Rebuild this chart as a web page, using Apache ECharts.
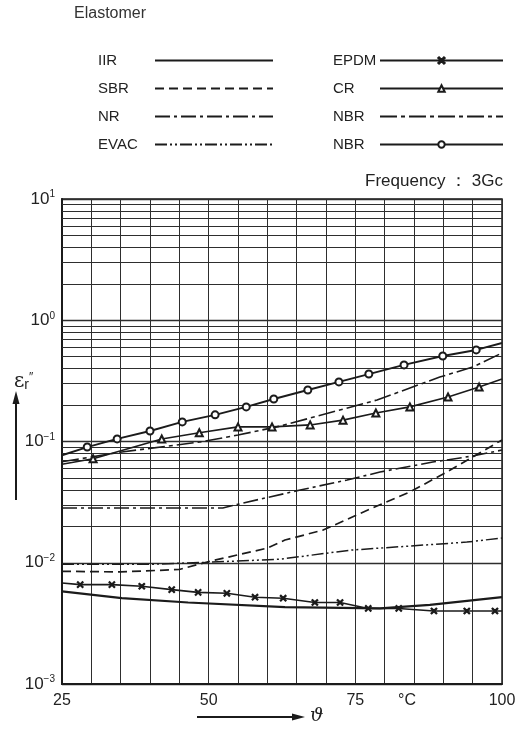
<!DOCTYPE html>
<html>
<head>
<meta charset="utf-8">
<script src="https://cdn.jsdelivr.net/npm/echarts@6/dist/echarts.min.js"></script>
<style>
  html, body { margin: 0; padding: 0; background: #fff; }
  #chart { width: 527px; height: 731px; }
</style>
</head>
<body>
<div id="chart"></div>
<script>
// Dielectric loss factor εr'' vs. temperature ϑ (°C) at 3 GHz, per elastomer

const iirT = [25, 35.2, 46.5, 63.0, 79.2, 87.7, 100];
const iirV = [0.0058, 0.0051, 0.0047, 0.0043, 0.0042, 0.0045, 0.0052];

const sbrT = [25, 35, 45, 49.9, 60, 63, 69.5, 78.7, 84.3, 90.6, 95, 100];
const sbrV = [0.0085, 0.0084, 0.0088, 0.0102, 0.0132, 0.0154, 0.0186, 0.0294, 0.0384, 0.056, 0.0745, 0.103];

const nrT = [25, 52.4, 55.9, 65.6, 73.6, 79.2, 88.2, 95, 100];
const nrV = [0.0283, 0.0283, 0.0311, 0.0398, 0.0481, 0.056, 0.0677, 0.0759, 0.085];

const evacT = [25, 40, 49.9, 62.2, 74.1, 94, 100];
const evacV = [0.0097, 0.0097, 0.0101, 0.0107, 0.0127, 0.0148, 0.016];

const epdmT = [25, 28.1, 33.5, 38.6, 43.7, 48.2, 53.1, 57.9, 62.7, 68.1, 72.4, 77.2, 82.4, 88.4, 94.0, 98.8, 100];
const epdmV = [0.0068, 0.0066, 0.0066, 0.0064, 0.0060, 0.0057, 0.0056, 0.0052, 0.0051, 0.0047, 0.0047, 0.0042, 0.0042, 0.0040, 0.0040, 0.0040, 0.0040];

const crT = [25, 30.3, 42.0, 48.4, 55.0, 60.8, 67.3, 72.9, 78.5, 84.3, 90.8, 96.1, 100];
const crV = [0.065, 0.072, 0.105, 0.118, 0.132, 0.132, 0.137, 0.150, 0.172, 0.193, 0.233, 0.281, 0.327];

const nbrDashT = [25, 35.2, 48.5, 55, 62.2, 78.7, 89.4, 95, 100];
const nbrDashV = [0.068, 0.082, 0.099, 0.113, 0.134, 0.220, 0.340, 0.411, 0.537];

const nbrRingT = [25, 29.3, 34.4, 40.0, 45.5, 51.1, 56.4, 61.1, 66.9, 72.2, 77.3, 83.3, 89.9, 95.6, 100];
const nbrRingV = [0.077, 0.090, 0.105, 0.122, 0.145, 0.166, 0.193, 0.224, 0.266, 0.310, 0.360, 0.428, 0.507, 0.569, 0.649];

// Axis ticks
const xLabelTicks = [25, 50, 75, 100];
const yDecades = [0.001, 0.01, 0.1, 1, 10];
const logMultipliers = [2, 3, 4, 5, 6, 7, 8, 9];

const INK = '#1b1b1b';
const GRID_INK = '#2e2e2e';
const FONT = 'Liberation Sans, Arial, sans-serif';

// Intermediate lines of the log paper (2..9 within every decade)
const minorLines = [];
yDecades.slice(0, -1).forEach(d => logMultipliers.forEach(m => minorLines.push(+(d * m).toPrecision(3))));

// Pair temperatures with values; first and last points are plain line ends
function points(T, V, marked) {
  return T.map((t, i) => {
    const item = { value: [t, V[i]] };
    if (!marked || i === 0 || i === T.length - 1) item.symbol = 'none';
    return item;
  });
}

const crossPath = 'path://M0,1.2L1.2,0L5,3.8L8.8,0L10,1.2L6.2,5L10,8.8L8.8,10L5,6.2L1.2,10L0,8.8L3.8,5Z';

function curve(name, T, V, lineType, width, symbol, symbolSize) {
  const marked = !!symbol;
  return {
    name: name,
    type: 'line',
    data: points(T, V, marked),
    symbol: symbol || 'none',
    symbolSize: symbolSize || 7,
    showSymbol: marked,
    lineStyle: { color: INK, width: width, type: lineType },
    itemStyle: { color: INK, borderColor: INK, borderWidth: 1.2 },
    emphasis: { disabled: true },
    animation: false,
    z: 5
  };
}

const series = [
  curve('IIR', iirT, iirV, 'solid', 2.2),
  curve('SBR', sbrT, sbrV, [9, 5], 1.7),
  curve('NR', nrT, nrV, [15, 4, 3, 4], 1.6),
  curve('EVAC', evacT, evacV, [12, 3, 2, 3, 2, 3], 1.5),
  curve('EPDM', epdmT, epdmV, 'solid', 1.6, crossPath, 6),
  curve('CR', crT, crV, 'solid', 1.6, 'emptyTriangle', 7),
  curve('NBR', nbrDashT, nbrDashV, [17, 4, 4, 4], 1.6),
  curve('NBR ', nbrRingT, nbrRingV, 'solid', 1.9, 'emptyCircle', 7),
  {
    name: 'log-paper',
    type: 'line',
    data: [],
    silent: true,
    animation: false,
    z: 1,
    markLine: {
      silent: true,
      symbol: 'none',
      animation: false,
      label: { show: false },
      lineStyle: { color: GRID_INK, width: 1, type: 'solid' },
      emphasis: { disabled: true },
      data: minorLines.map(v => ({ yAxis: v }))
    }
  }
];

// Legend rows: label in a fixed-width box on the left, line sample on the right
function legendRows(names, marked, left, labelWidth, iconWidth) {
  return {
    orient: 'vertical',
    align: 'right',
    left: left,
    top: 48,
    itemWidth: iconWidth,
    itemHeight: 8,
    itemGap: 13,
    selectedMode: false,
    data: names.map((n, i) => marked[i] ? { name: n } : { name: n, itemStyle: { opacity: 0 } }),
    formatter: n => '{t|' + n.trim() + '}',
    textStyle: {
      width: labelWidth,
      lineHeight: 15,
      color: '#222', fontFamily: FONT, fontSize: 15,
      rich: { t: { align: 'left', width: labelWidth, lineHeight: 15, fontSize: 15, fontFamily: FONT, color: '#222' } }
    }
  };
}

const chart = echarts.init(document.getElementById('chart'), null, { renderer: 'canvas' });
chart.setOption({
  backgroundColor: '#fff',
  animation: false,
  grid: {
    left: 62, right: 25, top: 199, bottom: 47,
    show: true, borderColor: INK, borderWidth: 1.5, backgroundColor: 'transparent'
  },
  legend: [
    legendRows(['IIR', 'SBR', 'NR', 'EVAC'], [false, false, false, false], 93, 52, 118),
    legendRows(['EPDM', 'CR', 'NBR', 'NBR '], [true, true, false, true], 328, 42, 123)
  ],
  xAxis: {
    type: 'value',
    min: 25, max: 100, interval: 5,
    axisLine: { show: true, lineStyle: { color: INK, width: 2 } },
    axisTick: { show: false },
    splitLine: { show: true, lineStyle: { color: GRID_INK, width: 1 } },
    axisLabel: {
      margin: 9,
      color: '#222', fontFamily: FONT, fontSize: 16,
      formatter: v => (xLabelTicks.indexOf(v) >= 0 ? String(v) : '')
    }
  },
  yAxis: {
    type: 'log',
    logBase: 10,
    min: 0.001, max: 10,
    axisLine: { show: true, lineStyle: { color: INK, width: 2 } },
    axisTick: { show: false },
    splitLine: { show: true, lineStyle: { color: GRID_INK, width: 1.3 } },
    axisLabel: {
      margin: 7,
      color: '#222', fontFamily: FONT,
      formatter: v => {
        const e = Math.round(Math.log10(v));
        return '{b|10}{s|' + (e < 0 ? '\u2212' + (-e) : e) + '}';
      },
      rich: {
        b: { fontSize: 17, fontFamily: FONT, color: '#222' },
        s: { fontSize: 10, fontFamily: FONT, color: '#222', verticalAlign: 'top', padding: [0, 0, 9, 0] }
      }
    }
  },
  graphic: [
    { type: 'text', left: 74, top: 6, style: { text: 'Elastomer', fill: '#333', font: '16px Liberation Sans, Arial, sans-serif' } },
    { type: 'text', right: 24, top: 173, style: { text: 'Frequency \uFF1A 3Gc', fill: '#222', font: '17px Liberation Sans, Arial, sans-serif' } },
    // y quantity with upward arrow
    { type: 'text', left: 14, top: 372, style: {
        rich: {
          e: { fontSize: 20, fontFamily: 'DejaVu Serif, serif', fill: '#222' },
          r: { fontSize: 14, fontFamily: FONT, fill: '#222', padding: [6, 0, 0, 0] },
          p: { fontSize: 12, fontFamily: FONT, fill: '#222', padding: [0, 0, 8, 0] }
        },
        text: '{e|ε}{r|r}{p|″}'
      } },
    { type: 'line', shape: { x1: 16, y1: 500, x2: 16, y2: 400 }, style: { stroke: INK, lineWidth: 2 } },
    { type: 'polygon', shape: { points: [[16, 391], [12.5, 404], [19.5, 404]] }, style: { fill: INK } },
    // x quantity with rightward arrow
    { type: 'line', shape: { x1: 197, y1: 717, x2: 296, y2: 717 }, style: { stroke: INK, lineWidth: 2 } },
    { type: 'polygon', shape: { points: [[305, 717], [292, 713.5], [292, 720.5]] }, style: { fill: INK } },
    { type: 'text', left: 310, top: 707, style: { text: 'ϑ', fill: '#222', font: 'italic 19px DejaVu Serif, serif' } },
    { type: 'text', left: 398, top: 693, style: { text: '°C', fill: '#222', font: '16px Liberation Sans, Arial, sans-serif' } }
  ],
  series: series
});
</script>
</body>
</html>
